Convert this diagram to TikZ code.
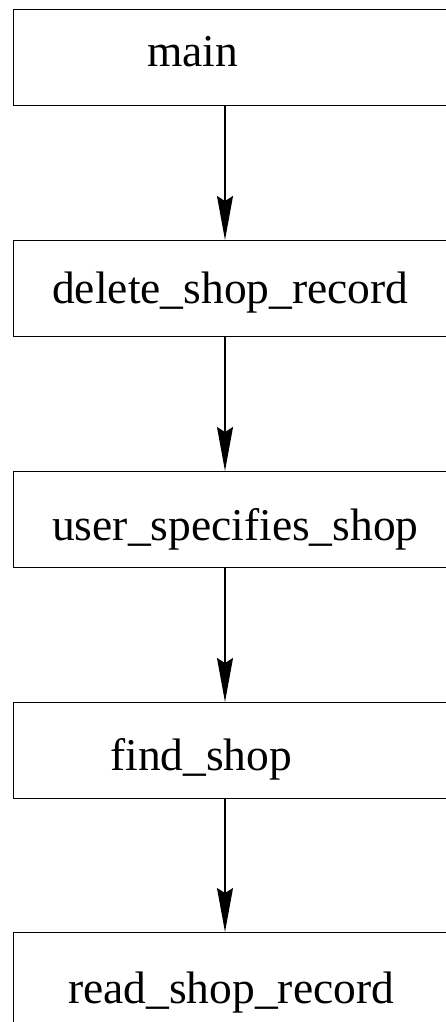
\documentclass[tikz,border=0pt]{standalone}
\usepackage{fontspec}
\setmainfont{Liberation Serif}
\usetikzlibrary{arrows.meta,positioning}
\tikzset{box/.style={draw,line width=1.3pt,minimum width=457pt,minimum height=96pt,anchor=north west,inner sep=0pt},
  lbl/.style={anchor=base west,inner sep=0pt,font=\fontsize{45.5}{50}\selectfont},
  flow/.style={-{Stealth[length=44pt,width=16pt,inset=5pt]},line width=1.3pt}}
\begin{document}
\begin{tikzpicture}[x=1pt,y=1pt]
\useasboundingbox (0,0) rectangle (446,-1022);
\clip (0,0) rectangle (446,-1022);
\coordinate (ax) at (225,0);
\node[box] (m) at (13,-9) {};
\node[box] (d) at (13,-240) {};
\node[box] (u) at (13,-471) {};
\node[box] (f) at (13,-702) {};
\node[box] (r) at (13,-932) {};
\node[lbl] (tm) at (147,-67) {main};
\node[lbl] (td) at (52,-303) {delete\_shop\_record};
\node[lbl] (tu) at (52,-540) {user\_specifies\_shop};
\node[lbl] (tf) at (110,-770) {find\_shop};
\node[lbl] (tr) at (68,-1003) {read\_shop\_record};
\draw[flow] (m.south -| ax)--(d.north -| ax);\draw[flow] (d.south -| ax)--(u.north -| ax);
\draw[flow] (u.south -| ax)--(f.north -| ax);\draw[flow] (f.south -| ax)--(r.north -| ax);
\end{tikzpicture}
\end{document}
